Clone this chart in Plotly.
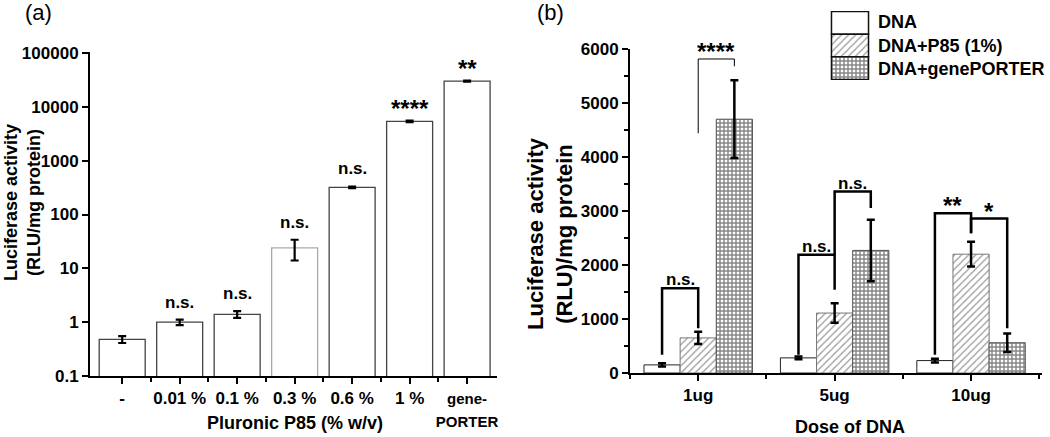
import math
import plotly.graph_objects as go

# ---------------- Data: panel (a) ----------------
a_categories = ["-", "0.01 %", "0.1 %", "0.3 %", "0.6 %", "1 %", "genePORTER"]
a_values = [0.48, 1.0, 1.4, 24, 320, 5400, 30000]
a_errors = [0.07, 0.12, 0.2, 10, 12, 180, 700]
a_signif = ["", "n.s.", "n.s.", "n.s.", "n.s.", "****", "**"]
a_yticks = [0.1, 1, 10, 100, 1000, 10000, 100000]
a_yticktext = ["0.1", "1", "10", "100", "1000", "10000", "100000"]

# ---------------- Data: panel (b) ----------------
b_doses = ["1ug", "5ug", "10ug"]
b_series = ["DNA", "DNA+P85 (1%)", "DNA+genePORTER"]
b_dna = [150, 280, 230]
b_dna_err = [30, 25, 35]
b_p85 = [650, 1110, 2200]
b_p85_err = [115, 180, 230]
b_gp = [4700, 2270, 560]
b_gp_err = [720, 570, 170]
# brackets: (dose index, left series, right series, top, left-leg bottom, right-leg bottom, label)
b_brackets = [
    (0, 0, 1, 1570, 340, 830, "n.s."),
    (0, 1, 2, 5815, 4440, 5680, "****"),
    (1, 0, 1, 2190, 340, 1540, "n.s."),
    (1, 1, 2, 3360, 2190, 3055, "n.s."),
    (2, 0, 1, 2960, 340, 2590, "**"),
    (2, 1, 2, 2860, 2590, 830, "*"),
]

FONT = "Liberation Sans, Arial, sans-serif"
W, H = 1050, 437

fig = go.Figure()

# ---------------- Panel (a) bars ----------------
a_x = list(range(len(a_categories)))
a_line_colors = ["#444"] * len(a_categories)
a_line_colors[3] = "#aaa"
fig.add_trace(go.Bar(
    x=a_x, y=a_values, width=0.8, xaxis="x", yaxis="y", showlegend=False,
    marker=dict(color="white", line=dict(color=a_line_colors, width=1.3)),
    error_y=dict(type="data", array=a_errors, color="black", thickness=2.2, width=4),
))

# ---------------- Panel (b) bars ----------------
BW = 0.265
offsets = [-1.5 * BW, -0.5 * BW, 0.5 * BW]
patterns = [
    dict(shape=""),
    dict(shape="/", fgcolor="#333", bgcolor="white", size=5, solidity=0.25),
    dict(shape="+", fgcolor="#111", bgcolor="white", size=4, solidity=0.6),
]
line_cols = ["#222", "#777", "#555"]
b_vals = [b_dna, b_p85, b_gp]
b_errs = [b_dna_err, b_p85_err, b_gp_err]
for i in range(3):
    fig.add_trace(go.Bar(
        x=list(range(len(b_doses))), y=b_vals[i], width=BW, offset=offsets[i],
        xaxis="x2", yaxis="y2", showlegend=False, name=b_series[i],
        marker=dict(color="white", pattern=patterns[i], line=dict(color=line_cols[i], width=1)),
        error_y=dict(type="data", array=b_errs[i], color="black", thickness=2.5, width=4),
    ))

# ---------------- Legend swatches (own mini axis) ----------------
for i in range(3):
    fig.add_trace(go.Bar(
        x=[1], y=[i], width=1, orientation="h", xaxis="x3", yaxis="y3", showlegend=False,
        marker=dict(color="white", pattern=patterns[i], line=dict(color="#111", width=1.5)),
        hoverinfo="skip",
    ))

# ---------------- Brackets in (b) ----------------
shapes = []
annotations = []
for (g, l, r, top, lb, rb, lab) in b_brackets:
    xl = g + offsets[l] + BW / 2
    xr = g + offsets[r] + BW / 2
    lw = 1 if lab == "****" else 2.5
    shapes.append(dict(type="path", xref="x2", yref="y2",
                       path=f"M {xl},{lb} L {xl},{top} L {xr},{top} L {xr},{rb}",
                       line=dict(color="black", width=lw)))
    is_star = "*" in lab
    annotations.append(dict(x=(xl + xr) / 2, y=top, xref="x2", yref="y2", text=lab,
                            showarrow=False, yanchor="bottom",
                            yshift=-8 if is_star else -3,
                            font=dict(family=FONT, size=24 if is_star else 17, color="black", weight="bold")))

# ---------------- Significance labels in (a) ----------------
for i, lab in enumerate(a_signif):
    if not lab:
        continue
    is_star = "*" in lab
    annotations.append(dict(x=i, y=math.log10(a_values[i] + a_errors[i]), xref="x", yref="y", text=lab,
                            showarrow=False, yanchor="bottom", yshift=-3 if is_star else 6,
                            font=dict(family=FONT, size=24 if is_star else 17, color="black", weight="bold")))

# ---------------- Titles / labels ----------------
def txt(x, y, text, size, angle=0, bold=True, xanchor="center"):
    annotations.append(dict(x=x, y=y, xref="paper", yref="paper", text=text, showarrow=False,
                            textangle=angle, xanchor=xanchor, yanchor="middle",
                            font=dict(family=FONT, size=size, color="black",
                                      weight="bold" if bold else "normal")))

txt(38 / W, 1 - 12 / H, "(a)", 22, bold=False)
txt(550 / W, 1 - 12 / H, "(b)", 22, bold=False)
txt(23 / W, 1 - 203 / H, "Luciferase activity<br>(RLU/mg protein)", 18, angle=-90)
txt(550 / W, 1 - 234 / H, "Luciferase activity<br>(RLU)/mg protein", 22, angle=-90)
txt(295 / W, 1 - 423 / H, "Pluronic P85 (% w/v)", 18)
txt(850 / W, 1 - 427 / H, "Dose of DNA", 18)
for i, name in enumerate(b_series):
    txt(876 / W, 1 - (22 + 23.5 * i) / H, name, 18, xanchor="left")

a_ticktext = [c if c != "genePORTER" else "<span style='font-size:15px'>gene-<br>PORTER</span>" for c in a_categories]

tickfont = dict(family=FONT, size=17, color="black", weight="bold")
axis_common = dict(showline=True, linecolor="black", linewidth=2, ticks="outside", ticklen=6,
                   tickwidth=2, tickcolor="black", showgrid=False, zeroline=False,
                   automargin=False, tickfont=tickfont, fixedrange=True)

fig.update_layout(
    width=W, height=H,
    margin=dict(l=0, r=0, t=0, b=0),
    paper_bgcolor="white", plot_bgcolor="rgba(0,0,0,0)",
    barmode="overlay",
    showlegend=False,
    xaxis=dict(domain=[90 / W, 497 / W], range=[-0.56, 6.52], anchor="y",
               tickmode="array", tickvals=a_x, ticktext=a_ticktext,
               minor=dict(tickmode="array", tickvals=[i + 0.5 for i in a_x[:-1]],
                          ticks="outside", ticklen=4, tickwidth=1.5, tickcolor="black"),
               **axis_common),
    yaxis=dict(domain=[1 - 376 / H, 1 - 52 / H], type="log", range=[-1, 5.02], anchor="x",
               tickmode="array", tickvals=a_yticks, ticktext=a_yticktext, **axis_common),
    xaxis2=dict(domain=[630 / W, 1042 / W], range=[-0.5, 2.52], anchor="y2",
                tickmode="array", tickvals=list(range(len(b_doses))), ticktext=b_doses,
                minor=dict(tickmode="array", tickvals=[-0.5, 0.5, 1.5, 2.5],
                           ticks="outside", ticklen=4, tickwidth=1.5, tickcolor="black"),
                **axis_common),
    yaxis2=dict(domain=[1 - 373 / H, 1 - 49 / H], range=[0, 6000], anchor="x2",
                tickmode="array", tickvals=[0, 1000, 2000, 3000, 4000, 5000, 6000],
                minor=dict(dtick=500, ticks="outside", ticklen=4, tickwidth=1.5, tickcolor="black"),
                **axis_common),
    xaxis3=dict(domain=[830 / W, 870 / W], range=[-0.04, 1.04], visible=False, anchor="y3", fixedrange=True),
    yaxis3=dict(domain=[1 - 80 / H, 1 - 11 / H], range=[2.52, -0.52], visible=False, anchor="x3", fixedrange=True),
    shapes=shapes,
    annotations=annotations,
)

fig.write_html(
    "out.html",
    config={"displayModeBar": False},
    post_script="document.body.style.margin='0px';document.body.style.overflow='hidden';",
)
